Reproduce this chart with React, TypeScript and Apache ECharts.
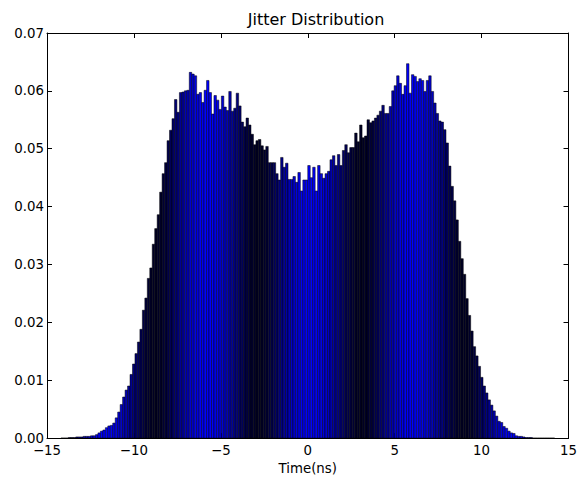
import React, { useEffect, useRef } from "react";
import * as echarts from "echarts";

// Histogram bins: 200 bins of equal width starting at binStart
const binStart = -14.2;
const binWidth = 0.142;

// Bin heights (normalized density)
const density: number[] = [
  0, 0, 0, 0.0001, 0.0001, 0.0001, 0.0002, 0.0002, 0.0002, 0.0003,
  0.0003, 0.0003, 0.0004, 0.0004, 0.0006, 0.0009, 0.0012, 0.0014, 0.0018, 0.0021,
  0.0022, 0.0026, 0.0035, 0.0045, 0.0058, 0.0071, 0.0083, 0.009, 0.011, 0.0128,
  0.0146, 0.0166, 0.0188, 0.0221, 0.0242, 0.0276, 0.0294, 0.0335, 0.0362, 0.0386,
  0.0425, 0.0457, 0.0476, 0.0514, 0.0532, 0.0552, 0.0585, 0.0563, 0.0597, 0.0598,
  0.06, 0.0601, 0.0632, 0.0629, 0.0626, 0.0594, 0.0597, 0.058, 0.0601, 0.0618,
  0.0597, 0.056, 0.0592, 0.0584, 0.0568, 0.0591, 0.0572, 0.0566, 0.0599, 0.0565,
  0.057, 0.0596, 0.0574, 0.0546, 0.0538, 0.0553, 0.0541, 0.0525, 0.0507, 0.0514,
  0.0516, 0.0505, 0.0498, 0.0504, 0.0476, 0.0476, 0.0476, 0.0457, 0.0446, 0.0485,
  0.0468, 0.0475, 0.0447, 0.0447, 0.0452, 0.0442, 0.0459, 0.0427, 0.0446, 0.0446,
  0.0471, 0.045, 0.0468, 0.0427, 0.0471, 0.0457, 0.0449, 0.0457, 0.0461, 0.0481,
  0.0488, 0.0471, 0.049, 0.0471, 0.0497, 0.0507, 0.0493, 0.0502, 0.0502, 0.0527,
  0.0512, 0.0541, 0.0519, 0.0522, 0.055, 0.0545, 0.0548, 0.0553, 0.0558, 0.0565,
  0.0575, 0.0561, 0.0561, 0.0573, 0.06, 0.0609, 0.0626, 0.0613, 0.0594, 0.0609,
  0.0647, 0.0596, 0.0628, 0.0625, 0.0616, 0.0621, 0.0618, 0.0599, 0.0618, 0.0626,
  0.0599, 0.0579, 0.0561, 0.0548, 0.0546, 0.0533, 0.051, 0.047, 0.0435, 0.041,
  0.0377, 0.034, 0.031, 0.0283, 0.0241, 0.0212, 0.0185, 0.0158, 0.0142, 0.0124,
  0.0105, 0.009, 0.0078, 0.0066, 0.0057, 0.0047, 0.0038, 0.0029, 0.0027, 0.002,
  0.0017, 0.0012, 0.0009, 0.0008, 0.0004, 0.0003, 0.0003, 0.0002, 0.0001, 0.0001,
  0.0001, 0, 0, 0, 0, 0, 0, 0, 0, 0,
];

const xTicks = { min: -15, max: 15, interval: 5 };
const yTicks = { min: 0, max: 0.07, interval: 0.01 };

const FONT = "DejaVu Sans";

export default function App() {
  const ref = useRef<HTMLDivElement>(null);

  useEffect(() => {
    if (!ref.current) return;
    const chart = echarts.init(ref.current, null, { renderer: "svg" });

    const data = density.map((d, i) => [
      binStart + i * binWidth,
      binStart + (i + 1) * binWidth,
      d,
    ]);

    const minus = (v: number) => String(v).replace("-", "\u2212");

    const xCommon = {
      type: "value" as const,
      min: xTicks.min,
      max: xTicks.max,
      interval: xTicks.interval,
      splitLine: { show: false },
      axisLine: { show: true, onZero: false, lineStyle: { color: "#000", width: 1 } },
      axisTick: { show: true, inside: true, length: 5, lineStyle: { color: "#000", width: 1 } },
    };
    const yCommon = {
      type: "value" as const,
      min: yTicks.min,
      max: yTicks.max,
      interval: yTicks.interval,
      splitLine: { show: false },
      axisLine: { show: true, onZero: false, lineStyle: { color: "#000", width: 1 } },
      axisTick: { show: true, inside: true, length: 5, lineStyle: { color: "#000", width: 1 } },
    };

    chart.setOption({
      animation: false,
      backgroundColor: "#fff",
      title: {
        text: "Jitter Distribution",
        left: 311,
        textAlign: "center",
        top: 6,
        textStyle: { fontFamily: FONT, fontSize: 16, fontWeight: "normal", color: "#000" },
      },
      grid: { left: 47, right: 5, top: 33, bottom: 37 },
      xAxis: [
        {
          ...xCommon,
          position: "bottom",
          axisLabel: {
            color: "#000",
            fontFamily: FONT,
            fontSize: 13.33,
            lineHeight: 13,
            margin: 6,
            formatter: (v: number) => minus(v),
          },
          name: "Time(ns)",
          nameLocation: "middle",
          nameGap: 21,
          nameTextStyle: { color: "#000", fontFamily: FONT, fontSize: 13.33, verticalAlign: "top" },
        },
        { ...xCommon, position: "top", axisLabel: { show: false } },
      ],
      yAxis: [
        {
          ...yCommon,
          position: "left",
          axisLabel: {
            color: "#000",
            fontFamily: FONT,
            fontSize: 13.33,
            lineHeight: 13,
            margin: 3,
            formatter: (v: number) => v.toFixed(2),
          },
        },
        { ...yCommon, position: "right", axisLabel: { show: false } },
      ],
      series: [
        {
          type: "custom",
          xAxisIndex: 0,
          yAxisIndex: 0,
          encode: { x: [0, 1], y: 2 },
          data,
          clip: true,
          renderItem: (params: any, api: any) => {
            const x0 = api.value(0);
            const x1 = api.value(1);
            const y = api.value(2);
            const p0 = api.coord([x0, y]);
            const p1 = api.coord([x1, 0]);
            const cx = (p0[0] + p1[0]) / 2;
            const t = 0.5 + 0.5 * Math.cos((2 * Math.PI * (cx - 310)) / 103);
            const b = Math.round(35 + 220 * Math.pow(t, 0.9));
            return {
              type: "rect",
              shape: { x: p0[0], y: p0[1], width: p1[0] - p0[0], height: p1[1] - p0[1] },
              style: { fill: `rgb(0,0,${b})`, stroke: "#000", lineWidth: 0.5 },
            };
          },
        },
      ],
    });

    return () => chart.dispose();
  }, []);

  return (
    <div
      ref={ref}
      style={{ position: "absolute", left: 0, top: 0, width: 580, height: 480, background: "#fff" }}
    />
  );
}
